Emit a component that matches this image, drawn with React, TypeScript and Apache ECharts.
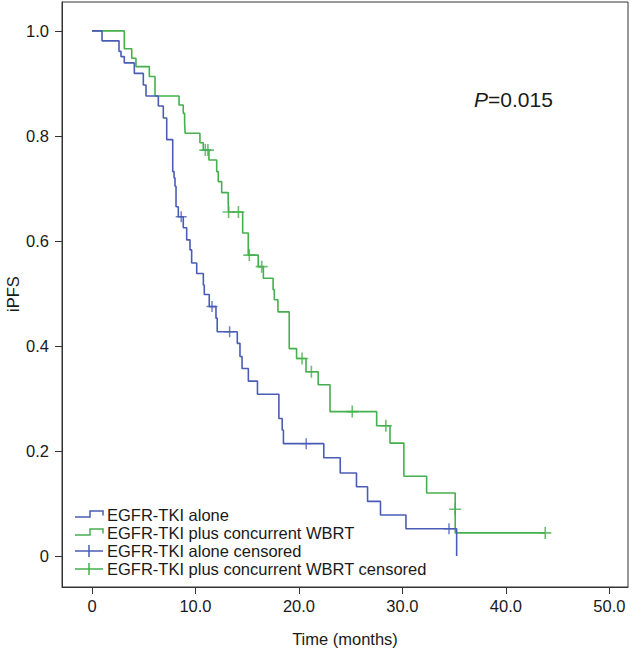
import React, { useEffect, useRef } from 'react';
import * as echarts from 'echarts';

// Kaplan-Meier steps: [time (months), survival after event]
const aloneSteps: [number, number][] = [
  [0, 1.0], [0.97, 0.981], [2.61, 0.961], [2.8, 0.951], [3.12, 0.939], [4.09, 0.919],
  [4.96, 0.897], [5.22, 0.876], [6.41, 0.857], [6.89, 0.834], [7.22, 0.793], [7.8, 0.732],
  [7.93, 0.72], [8.02, 0.704], [8.12, 0.665], [8.34, 0.646], [8.82, 0.625], [9.15, 0.602],
  [9.47, 0.583], [9.63, 0.558], [10.12, 0.538], [10.76, 0.516], [10.85, 0.498], [11.33, 0.475],
  [11.98, 0.453], [12.1, 0.427], [14.04, 0.405], [14.3, 0.38], [14.5, 0.357], [15.11, 0.333],
  [15.99, 0.308], [18.06, 0.262], [18.38, 0.24], [18.5, 0.214], [22.4, 0.187], [23.99, 0.158],
  [25.56, 0.132], [26.63, 0.104], [27.88, 0.078], [30.34, 0.052], [35.24, 0],
];

const wbrtSteps: [number, number][] = [
  [0, 1.0], [3.12, 0.966], [3.84, 0.948], [4.25, 0.932], [5.54, 0.913], [6.09, 0.876],
  [8.41, 0.859], [8.82, 0.843], [8.95, 0.824], [9.0, 0.805], [10.43, 0.787], [10.75, 0.773],
  [11.3, 0.754], [12.05, 0.732], [12.2, 0.713], [12.53, 0.692], [13.16, 0.672], [13.2, 0.655],
  [14.56, 0.615], [15.1, 0.573], [16.06, 0.551], [16.56, 0.529], [17.5, 0.507], [17.62, 0.488],
  [17.97, 0.465], [19.06, 0.395], [19.77, 0.376], [20.68, 0.351], [21.86, 0.326], [23.0, 0.275],
  [27.51, 0.248], [28.8, 0.215], [30.14, 0.152], [32.34, 0.12], [35.1, 0.044], [43.8, 0.044],
];

const aloneCensored: [number, number][] = [
  [8.62, 0.646], [11.6, 0.475], [13.3, 0.427], [20.7, 0.214], [34.5, 0.052],
];

const wbrtCensored: [number, number][] = [
  [10.95, 0.773], [11.2, 0.773], [13.2, 0.655], [14.15, 0.655], [15.2, 0.573], [16.4, 0.551],
  [20.3, 0.376], [21.2, 0.351], [25.15, 0.275], [28.4, 0.248], [35.1, 0.089], [43.8, 0.044],
];

const xTicks = [0, 10, 20, 30, 40, 50];
const yTicks = [0, 0.2, 0.4, 0.6, 0.8, 1.0];

const legendLabels = [
  'EGFR-TKI alone',
  'EGFR-TKI plus concurrent WBRT',
  'EGFR-TKI alone censored',
  'EGFR-TKI plus concurrent WBRT censored',
];

const BLUE = '#4a5db5';
const GREEN = '#45b04d';
const FONT = '"Liberation Sans", Arial, sans-serif';
const PLUS = 'path://M0,5.2H5.2V0H6.8V5.2H12V6.8H6.8V12H5.2V6.8H0Z';

const fmt = (v: number) => (v === 0 ? '0' : v.toFixed(1));

export default function App() {
  const ref = useRef<HTMLDivElement>(null);
  useEffect(() => {
    const chart = echarts.init(ref.current!, null, { renderer: 'svg' });
    const rows = [515, 533, 551, 569];
    const colors = [BLUE, GREEN, BLUE, GREEN];
    const legendEls: any[] = [];
    rows.forEach((y, i) => {
      if (i < 2) {
        legendEls.push({
          type: 'polyline',
          shape: { points: [[75, y + 2], [90, y + 2], [90, y - 4], [103, y - 4], [103, y + 0.5]] },
          style: { stroke: colors[i], lineWidth: 1.5, fill: null },
        });
      } else {
        legendEls.push({ type: 'line', shape: { x1: 75, y1: y, x2: 103, y2: y }, style: { stroke: colors[i], lineWidth: 1.5 } });
        legendEls.push({ type: 'line', shape: { x1: 89, y1: y - 6, x2: 89, y2: y + 6 }, style: { stroke: colors[i], lineWidth: 1.5 } });
      }
      legendEls.push({
        type: 'text', x: 107, y,
        style: { text: legendLabels[i], fontSize: 16.5, fontFamily: FONT, fill: '#1a1a1a', verticalAlign: 'middle', align: 'left' },
      });
    });

    chart.setOption({
      animation: false,
      textStyle: { fontFamily: FONT },
      grid: {
        left: 62, right: 14, top: 2, bottom: 61, show: true, borderColor: '#333', borderWidth: 1,
        containLabel: false, outerBoundsMode: 'none',
      },
      xAxis: {
        type: 'value', min: -2.9, max: 51.8,
        name: 'Time (months)', nameLocation: 'middle', nameGap: 43,
        nameTextStyle: { fontSize: 16.5, color: '#1a1a1a', fontFamily: FONT },
        axisLine: { show: true, onZero: false, lineStyle: { color: '#333' } },
        axisTick: { show: true, inside: false, length: 7, customValues: xTicks, lineStyle: { color: '#333' } },
        axisLabel: { customValues: xTicks, formatter: fmt, fontSize: 16.5, color: '#1a1a1a', margin: 10, fontFamily: FONT },
        splitLine: { show: false },
      },
      yAxis: {
        type: 'value', min: -0.059, max: 1.055,
        axisLine: { show: true, onZero: false, lineStyle: { color: '#333' } },
        axisTick: { show: true, inside: false, length: 7, customValues: yTicks, lineStyle: { color: '#333' } },
        axisLabel: { customValues: yTicks, formatter: fmt, fontSize: 16.5, color: '#1a1a1a', margin: 13, fontFamily: FONT },
        splitLine: { show: false },
      },
      series: [
        { type: 'line', name: legendLabels[1], data: wbrtSteps, step: 'end', showSymbol: false, silent: true, lineStyle: { color: GREEN, width: 1.6 }, itemStyle: { color: GREEN } },
        { type: 'line', name: legendLabels[0], data: aloneSteps, step: 'end', showSymbol: false, silent: true, lineStyle: { color: BLUE, width: 1.6 }, itemStyle: { color: BLUE } },
        { type: 'scatter', name: legendLabels[3], data: wbrtCensored, symbol: PLUS, symbolSize: 12, silent: true, itemStyle: { color: GREEN } },
        { type: 'scatter', name: legendLabels[2], data: aloneCensored, symbol: PLUS, symbolSize: 11, silent: true, itemStyle: { color: BLUE } },
      ],
      graphic: [
        ...legendEls,
        {
          type: 'text', x: 13, y: 294, rotation: Math.PI / 2,
          style: { text: 'iPFS', fontSize: 16.5, fontFamily: FONT, fill: '#1a1a1a', align: 'center', verticalAlign: 'middle' },
        },
        {
          type: 'text', x: 474, y: 99,
          style: {
            text: '{i|P}{n|=0.015}', verticalAlign: 'middle', align: 'left',
            rich: {
              i: { fontStyle: 'italic', fontSize: 21, fontFamily: FONT, fill: '#1a1a1a' },
              n: { fontSize: 21, fontFamily: FONT, fill: '#1a1a1a' },
            },
          },
        },
      ],
    });
    return () => chart.dispose();
  }, []);
  return <div ref={ref} style={{ position: 'fixed', left: 0, top: 0, width: 642, height: 648, background: '#fff' }} />;
}
